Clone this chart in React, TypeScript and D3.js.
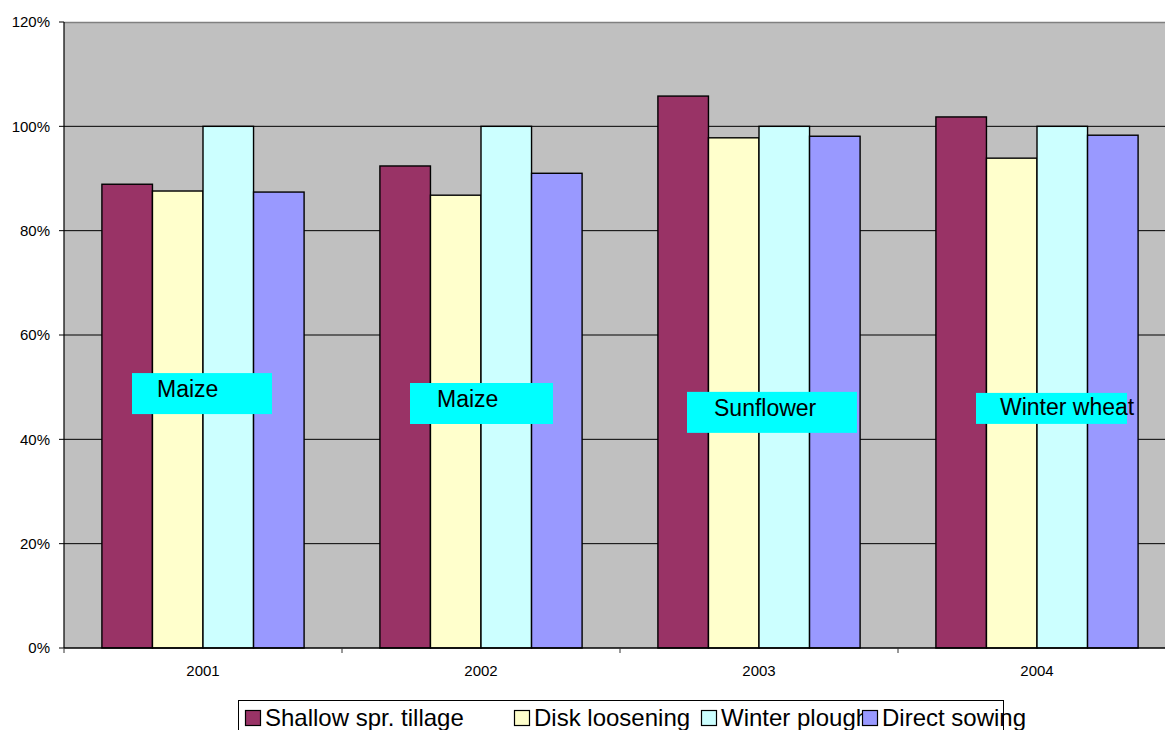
import React from "react";
import * as d3 from "d3";

const years = ["2001", "2002", "2003", "2004"];
const seriesNames = ["Shallow spr. tillage", "Disk loosening", "Winter plough", "Direct sowing"];
const shallow = [88.9, 92.4, 105.8, 101.8];
const disk = [87.6, 86.8, 97.8, 93.9];
const winter = [100, 100, 100, 100];
const direct = [87.4, 91.0, 98.1, 98.3];
const yTicks = [0, 20, 40, 60, 80, 100, 120];
const cropLabels = ["Maize", "Maize", "Sunflower", "Winter wheat"];
const cropLevels = [52.7, 50.8, 49.1, 48.9];

const colors = ["#993366", "#FFFFCC", "#CCFFFF", "#9999FF"];
const W = 1165;
const H = 730;
const m = { left: 64, top: 22, bottom: 648, right: 1176 };
const font = "'Liberation Sans', Arial, sans-serif";

// annotation boxes: offset from category start, width, height
const boxGeom = [
  { dx: 68, w: 140, h: 41, tx: 25, ty: 24 },
  { dx: 68, w: 143, h: 41, tx: 27, ty: 24 },
  { dx: 67, w: 170, h: 41, tx: 27, ty: 24 },
  { dx: 78, w: 151, h: 31, tx: 24, ty: 22 },
];
const legendX = [245, 514, 701, 862];

export default function App() {
  const values = [shallow, disk, winter, direct];
  const x0 = d3.scaleBand<string>().domain(years).range([m.left, m.right]).padding(0);
  const x1 = d3
    .scaleBand<string>()
    .domain(seriesNames)
    .range([0, x0.bandwidth()])
    .paddingInner(0)
    .paddingOuter(0.75);
  const y = d3.scaleLinear().domain([0, 120]).range([m.bottom, m.top]);

  return (
    <svg
      width={W}
      height={H}
      style={{ position: "absolute", left: 0, top: 0, background: "#fff" }}
      fontFamily={font}
    >
      <rect x={m.left} y={m.top} width={m.right - m.left} height={m.bottom - m.top} fill="#C0C0C0" />
      <line x1={m.left} x2={m.right} y1={m.top + 0.5} y2={m.top + 0.5} stroke="#808080" strokeWidth={1.5} />
      {/* grid */}
      {yTicks
        .filter((t) => t > 0 && t < 120)
        .map((t) => (
          <line key={t} x1={m.left} x2={m.right} y1={y(t)} y2={y(t)} stroke="#000" strokeWidth={1} />
        ))}
      {/* bars */}
      {years.map((yr, i) => (
        <g key={yr}>
          {seriesNames.map((s, j) => (
            <rect
              key={s}
              x={(x0(yr) ?? 0) + (x1(s) ?? 0)}
              y={y(values[j][i])}
              width={x1.bandwidth()}
              height={y(0) - y(values[j][i])}
              fill={colors[j]}
              stroke="#000"
              strokeWidth={1.4}
            />
          ))}
        </g>
      ))}
      {/* axes */}
      <line x1={m.left} x2={m.left} y1={m.top} y2={m.bottom} stroke="#000" strokeWidth={1.2} />
      <line x1={m.left} x2={m.right} y1={m.bottom} y2={m.bottom} stroke="#000" strokeWidth={1.5} />
      {yTicks.map((t) => (
        <g key={t}>
          <line x1={m.left - 5} x2={m.left} y1={y(t)} y2={y(t)} stroke="#000" />
          <text x={50} y={y(t)} dy="0.36em" textAnchor="end" fontSize={15} fill="#000">
            {t}%
          </text>
        </g>
      ))}
      {years.map((yr) => (
        <g key={yr}>
          <line x1={x0(yr) ?? 0} x2={x0(yr) ?? 0} y1={m.bottom} y2={m.bottom + 5} stroke="#333" />
          <text
            x={(x0(yr) ?? 0) + x0.bandwidth() / 2}
            y={676}
            textAnchor="middle"
            fontSize={15}
            fill="#000"
          >
            {yr}
          </text>
        </g>
      ))}
      {/* crop labels */}
      {years.map((yr, i) => {
        const b = boxGeom[i];
        const bx = (x0(yr) ?? 0) + b.dx;
        const by = y(cropLevels[i]);
        return (
          <g key={"lab" + yr}>
            <rect x={bx} y={by} width={b.w} height={b.h} fill="#00FFFF" />
            <text x={bx + b.tx} y={by + b.ty} fontSize={23} fill="#000">
              {cropLabels[i]}
            </text>
          </g>
        );
      })}
      {/* legend */}
      <rect x={238.5} y={700.5} width={765} height={60} fill="#fff" stroke="#000" strokeWidth={1} />
      {seriesNames.map((s, j) => (
        <g key={s}>
          <text x={legendX[j] + 20} y={726} fontSize={24} fill="#000">
            {s}
          </text>
          <rect x={legendX[j] + 0.5} y={710.5} width={15} height={15} fill={colors[j]} stroke="#000" strokeWidth={1.2} />
        </g>
      ))}
    </svg>
  );
}
